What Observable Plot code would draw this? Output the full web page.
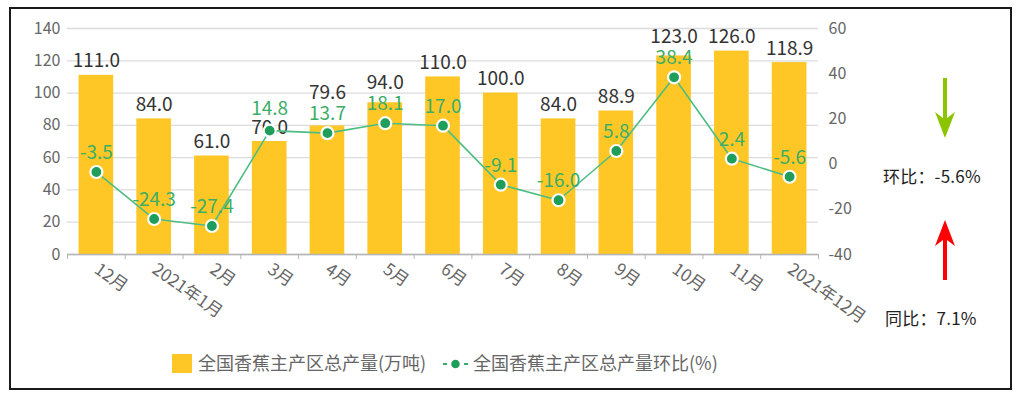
<!DOCTYPE html>
<html>
<head>
<meta charset="utf-8">
<script src="https://cdn.jsdelivr.net/npm/d3@7"></script>
<script src="https://cdn.jsdelivr.net/npm/@observablehq/plot@0.6"></script>
<style>
  html, body { margin: 0; padding: 0; background: #fff; }
  #wrap { position: relative; width: 1022px; height: 399px; overflow: hidden; font-family: "Noto Sans CJK SC", "Noto Sans", sans-serif; }
  #frame { position: absolute; left: 9px; top: 7px; width: 999px; height: 379px; border: 2px solid #1a1a1a; }
  #chart { position: absolute; left: 0; top: 0; }
  .leg { position: absolute; font-size: 18px; color: #666; line-height: 20px; white-space: nowrap; }
  .note { position: absolute; font-size: 17px; color: #222; line-height: 18px; white-space: nowrap; letter-spacing: 0.2px; }
</style>
</head>
<body>
<div id="wrap">
  <div id="frame"></div>
  <div id="chart"></div>
  <div class="leg" style="left:172px; top:352px;"><span style="display:inline-block;width:20px;height:19px;background:#ffc726;vertical-align:-3px;margin-right:6px;"></span><span id="leg1"></span></div>
  <div class="leg" style="left:443px; top:352px;"><svg width="25" height="20" style="vertical-align:-4px;margin-right:5px"><line x1="0" y1="10" x2="25" y2="10" stroke="#2fae6a" stroke-width="2" stroke-dasharray="4,3"/><circle cx="12.5" cy="10" r="5" fill="#1e9e5a" stroke="#fff" stroke-width="1.5"/></svg><span id="leg2"></span></div>
  <svg style="position:absolute;left:930px;top:76px" width="30" height="64">
    <path d="M13 2 H17 V42 L25 36 L15 62 L5 36 L13 42 Z" fill="#8cc400"/>
  </svg>
  <div class="note" id="hb" style="left:883px; top:167px;"></div>
  <svg style="position:absolute;left:930px;top:218px" width="30" height="64">
    <path d="M15 2 L25 28 L17 22 V62 H13 V22 L5 28 Z" fill="#ff0000"/>
  </svg>
  <div class="note" id="tb" style="left:885px; top:309px;"></div>
</div>
<script>
const months = ["12月","2021年1月","2月","3月","4月","5月","6月","7月","8月","9月","10月","11月","2021年12月"];
const output = [111.0, 84.0, 61.0, 70.0, 79.6, 94.0, 110.0, 100.0, 84.0, 88.9, 123.0, 126.0, 118.9];
const mom = [-3.5, -24.3, -27.4, 14.8, 13.7, 18.1, 17.0, -9.1, -16.0, 5.8, 38.4, 2.4, -5.6];
const leftTicks = [0, 20, 40, 60, 80, 100, 120, 140];
const rightTicks = [-40, -20, 0, 20, 40, 60];
const seriesNames = ["全国香蕉主产区总产量(万吨)", "全国香蕉主产区总产量环比(%)"];
const notes = {hb: "环比：-5.6%", tb: "同比：7.1%"};

document.getElementById("leg1").textContent = seriesNames[0];
document.getElementById("leg2").textContent = seriesNames[1];
document.getElementById("hb").textContent = notes.hb;
document.getElementById("tb").textContent = notes.tb;

const yMax = leftTicks[leftTicks.length-1];
const rMin = rightTicks[0], rMax = rightTicks[rightTicks.length-1];
// map right axis (-40..60) onto left axis (0..140)
const toLeft = v => (v - rMin) * yMax / (rMax - rMin);

const W = 1022, H = 340, ML = 67, MR = 204, MT = 28, MB = 86;
const step = (W - ML - MR) / months.length;
const pxPerUnit = (H - MT - MB) / yMax;

// label placement (pixels above the value), with simple collision avoidance like the original
const BAR_OFF = 14, LINE_OFF = 19, GAP = 21;
const data = months.map((m, i) => {
  const barPx = output[i] * pxPerUnit + BAR_OFF;
  let linePx = toLeft(mom[i]) * pxPerUnit + LINE_OFF;
  let bPx = barPx;
  if (Math.abs(bPx - linePx) < 17) {
    if (bPx < linePx) linePx = bPx + GAP - 2;
    else bPx = linePx + GAP;
  }
  return {month: m, output: output[i], mom: mom[i], barLabelY: bPx / pxPerUnit, lineLabelY: linePx / pxPerUnit};
});

const chart = Plot.plot({
  width: W, height: H,
  marginLeft: ML, marginRight: MR, marginTop: MT, marginBottom: MB,
  style: {fontFamily: '"Noto Sans CJK SC", "Noto Sans", sans-serif', background: "transparent", color: "#666"},
  x: {domain: months, paddingInner: 0.4, paddingOuter: 0.2, round: false, label: null},
  y: {domain: [0, yMax], label: null},
  marks: [
    Plot.gridY(leftTicks, {stroke: "#dcdcdc", strokeOpacity: 1, strokeWidth: 1.3}),
    Plot.barY(data, {x: "month", y: "output", fill: "#ffc726"}),
    Plot.ruleY([0], {stroke: "#b5b5b5", strokeWidth: 1.3}),
    Plot.axisY(leftTicks, {anchor: "left", tickSize: 0, tickPadding: 7, fontSize: 16, fill: "#666", label: null}),
    Plot.axisY(rightTicks.map(toLeft), {anchor: "right", tickSize: 0, tickPadding: 10, fontSize: 16, fill: "#666", label: null,
      tickFormat: d => String(Math.round(rMin + d * (rMax - rMin) / yMax))}),
    Plot.axisX({text: null, tickSize: 5, dx: -step/2, stroke: "#b5b5b5", label: null}),
    Plot.axisX([months[months.length-1]], {text: null, tickSize: 5, dx: step/2, stroke: "#b5b5b5", label: null}),
    Plot.axisX({tickSize: 0, tickPadding: 13, tickRotate: 35, fontSize: 17, fill: "#666", label: null}),
    Plot.text(data, {x: "month", y: "barLabelY", text: d => d.output.toFixed(1), fontSize: 19, fill: "#333"}),
    Plot.line(data, {x: "month", y: d => toLeft(d.mom), stroke: "#4dbd82", strokeWidth: 1.6}),
    Plot.dot(data, {x: "month", y: d => toLeft(d.mom), r: 6, fill: "#1e9e5a", stroke: "#fff", strokeWidth: 2.2}),
    Plot.text(data, {x: "month", y: "lineLabelY", text: d => d.mom.toFixed(1), fontSize: 19, fill: "#3aae66"})
  ]
});
document.getElementById("chart").appendChild(chart);
</script>
</body>
</html>
